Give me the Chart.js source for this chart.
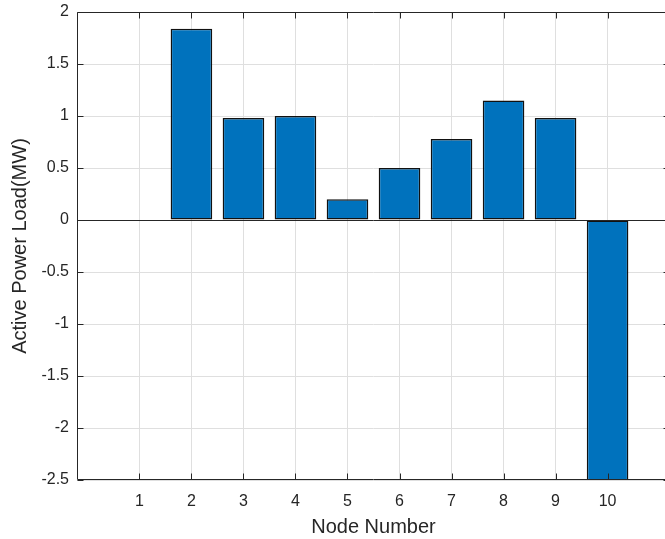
<!DOCTYPE html>
<html>
<head>
<meta charset="utf-8">
<script src="https://cdn.jsdelivr.net/npm/chart.js@4/dist/chart.umd.min.js"></script>
<style>
  html, body { margin: 0; padding: 0; background: #fff; overflow: hidden; }
  #wrap { width: 672px; height: 539px; }
</style>
</head>
<body>
<div id="wrap"><canvas id="c" width="672" height="539"></canvas></div>
<script>
// Active power load per node
const nodes = [1, 2, 3, 4, 5, 6, 7, 8, 9, 10];
const loadMW = [0, 1.84, 0.98, 1.0, 0.2, 0.5, 0.78, 1.15, 0.98, -2.6];
const yTicks = [-2.5, -2, -1.5, -1, -0.5, 0, 0.5, 1, 1.5, 2];

const AXIS = '#262626';
const GRID = '#dfdfdf';
const FONT = 'Liberation Sans, Arial, Helvetica, sans-serif';

// Axis box, inward tick marks and zero baseline (MATLAB-style axes)
const boxPlugin = {
  id: 'box',
  afterDatasetsDraw(chart) {
    const { ctx, chartArea: a, scales: { x, y } } = chart;
    const len = 6;
    ctx.save();
    ctx.strokeStyle = AXIS;
    ctx.lineWidth = 1;
    ctx.beginPath();
    // zero baseline
    const y0 = Math.round(y.getPixelForValue(0)) + 0.5;
    ctx.moveTo(a.left, y0); ctx.lineTo(a.right, y0);
    // frame
    const L = Math.round(a.left) + 0.5, R = Math.round(a.right) - 0.5;
    const T = Math.round(a.top) + 0.5, B = Math.round(a.bottom) - 0.5;
    ctx.moveTo(L, T); ctx.lineTo(R, T); ctx.lineTo(R, B); ctx.lineTo(L, B); ctx.closePath();
    // x ticks, top and bottom
    nodes.forEach(n => {
      const px = Math.round(x.getPixelForValue(n)) + 0.5;
      ctx.moveTo(px, B); ctx.lineTo(px, B - len);
      ctx.moveTo(px, T); ctx.lineTo(px, T + len);
    });
    // y ticks, left and right
    yTicks.forEach(v => {
      const py = Math.round(y.getPixelForValue(v)) + 0.5;
      ctx.moveTo(L, py); ctx.lineTo(L + len, py);
      ctx.moveTo(R, py); ctx.lineTo(R - len, py);
    });
    ctx.stroke();
    ctx.restore();
  }
};

new Chart(document.getElementById('c'), {
  type: 'bar',
  data: {
    datasets: [{
      data: nodes.map((n, i) => ({ x: n, y: loadMW[i] })),
      backgroundColor: '#0072BD',
      borderColor: '#111111',
      borderWidth: 1.5,
      borderSkipped: false,
      categoryPercentage: 1,
      barPercentage: 0.8
    }]
  },
  options: {
    responsive: false,
    animation: false,
    layout: { padding: { left: 0, right: 2, top: 12, bottom: 0 } },
    plugins: { legend: { display: false }, tooltip: { enabled: false } },
    scales: {
      x: {
        type: 'linear',
        offset: false,
        min: -0.2,
        max: 11.2,
        afterBuildTicks(scale) { scale.ticks = nodes.map(v => ({ value: v })); },
        afterFit(scale) { scale.height = 59; scale.paddingLeft = 0; scale.paddingRight = 0; },
        grid: { color: GRID, drawTicks: false, offset: false },
        border: { display: false },
        ticks: {
          color: AXIS,
          font: { family: FONT, size: 16 },
          padding: 12,
          maxRotation: 0,
          autoSkip: false,
          callback: v => String(v)
        },
        title: {
          display: true,
          text: 'Node Number',
          color: AXIS,
          font: { family: FONT, size: 20 },
          padding: { top: 0, bottom: 0 }
        }
      },
      y: {
        min: -2.5,
        max: 2,
        afterBuildTicks(scale) { scale.ticks = yTicks.map(v => ({ value: v })); },
        afterFit(scale) { scale.width = 77; scale.paddingTop = 0; scale.paddingBottom = 0; },
        grid: { color: GRID, drawTicks: false },
        border: { display: false },
        ticks: {
          color: AXIS,
          font: { family: FONT, size: 16 },
          padding: 8,
          autoSkip: false,
          callback: v => String(v)
        },
        title: {
          display: true,
          text: 'Active Power Load(MW)',
          color: AXIS,
          font: { family: FONT, size: 20 },
          padding: { top: 8, bottom: 0 }
        }
      }
    }
  },
  plugins: [boxPlugin]
});
</script>
</body>
</html>
